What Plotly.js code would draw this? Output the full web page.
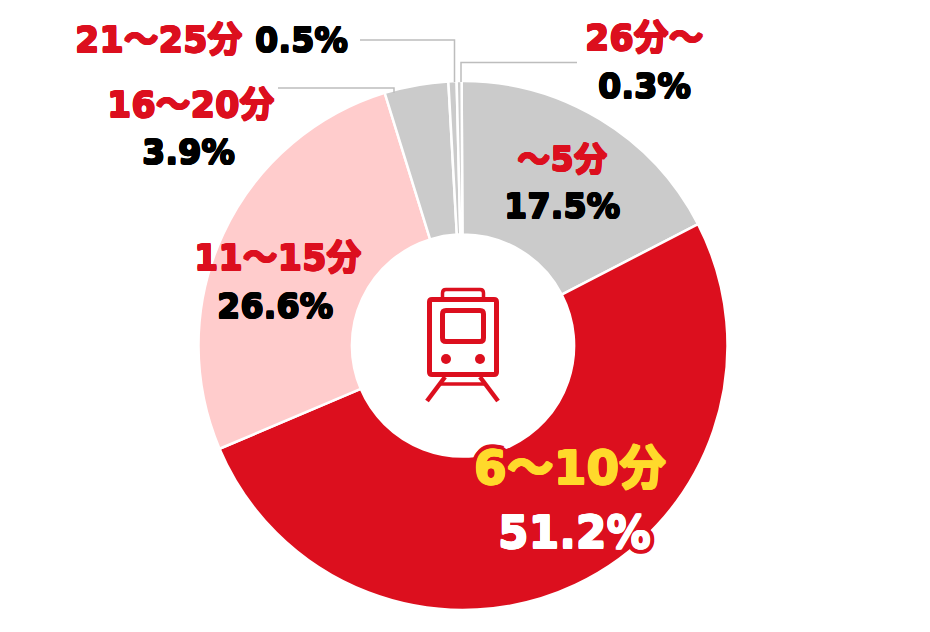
<!DOCTYPE html>
<html><head><meta charset="utf-8">
<script src="https://cdn.plot.ly/plotly-3.0.1.min.js"></script>
<style>html,body{margin:0;padding:0;background:#fff}#c{width:930px;height:632px}</style>
</head><body><div id="c"></div>
<script>
const categories = ["〜5分","6〜10分","11〜15分","16〜20分","21〜25分","26分〜"];
const shares = [17.5,51.2,26.6,3.9,0.5,0.3];
const sliceColors = ["#cbcbcb","#dc0f1e","#ffcccc","#cbcbcb","#cbcbcb","#cbcbcb"];
const W=930,H=632;
const px=x=>x/W, py=y=>1-y/H;
const path=s=>s.replace(/(-?[\d.]+),(-?[\d.]+)/g,(m,a,b)=>px(+a)+','+py(+b));
const RED="#dc0f1e", GR="#bdbdbd", FC='"DejaVu Sans","Noto Sans CJK JP",sans-serif';
const fat=(c,w)=>{const o=[];for(const [a,b] of [[w,0],[-w,0],[0,w],[0,-w],[w,w],[-w,-w],[w,-w],[-w,w]])o.push(`${a}px ${b}px 0 ${c}`);return o.join(',')};
const halo=(c,w)=>{const o=[];for(let i=0;i<16;i++){const t=i*Math.PI/8;o.push(`${(w*Math.cos(t)).toFixed(1)}px ${(w*Math.sin(t)).toFixed(1)}px 0 ${c}`)}return o.join(',')};
function label(x,y,text,color,size,shadow){
  return {xref:'paper',yref:'paper',x:px(x),y:py(y),xanchor:'center',yanchor:'middle',showarrow:false,text,
    font:{family:FC,size,color,weight:700,shadow:shadow||fat(color,0.6)}};
}
const annotations=[
  label(158,40,categories[4],RED,35),
  label(301,40,shares[4].toFixed(1)+'%',"#000",33.5),
  label(190,105,categories[3],RED,35),
  label(188,153,shares[3].toFixed(1)+'%',"#000",33.5),
  label(644,38,categories[5],RED,35),
  label(644,86,shares[5].toFixed(1)+'%',"#000",33.5),
  label(562,159,categories[0],RED,33.5),
  label(562,207,shares[0].toFixed(1)+'%',"#000",33.5),
  label(277,258,categories[2],RED,35),
  label(275,307,shares[2].toFixed(1)+'%',"#000",33.5),
  label(570,468,categories[1],"#ffd92b",47,fat("#ffd92b",0.7)+','+halo(RED,5)),
  label(574,532,shares[1].toFixed(1)+'%',"#fff",44,fat("#fff",0.6)+','+halo(RED,5)),
];
const ln={color:GR,width:1.5};
const ic={color:RED,width:5};
const shapes=[
  {type:'path',xref:'paper',yref:'paper',line:ln,path:path('M360,40 L454.5,40 L454.5,82')},
  {type:'path',xref:'paper',yref:'paper',line:ln,path:path('M278,88 L394,88 L394,93')},
  {type:'path',xref:'paper',yref:'paper',line:ln,path:path('M577,62.5 L461,62.5 L461,82')},
  {type:'path',xref:'paper',yref:'paper',line:ic,path:path('M432,299.5 L494,299.5 Q496.5,299.5 496.5,302 L496.5,372 Q496.5,374.5 494,374.5 L432,374.5 Q429.5,374.5 429.5,372 L429.5,302 Q429.5,299.5 432,299.5 Z')},
  {type:'path',xref:'paper',yref:'paper',line:{color:RED,width:3.5},path:path('M442.5,297 L442.5,293 Q442.5,289.5 446,289.5 L480,289.5 Q483.5,289.5 483.5,293 L483.5,297')},
  {type:'path',xref:'paper',yref:'paper',line:ic,path:path('M446,310.5 L480,310.5 Q483.5,310.5 483.5,314 L483.5,338 Q483.5,341.5 480,341.5 L446,341.5 Q442.5,341.5 442.5,338 L442.5,314 Q442.5,310.5 446,310.5 Z')},
  {type:'circle',xref:'paper',yref:'paper',fillcolor:RED,line:{width:0},x0:px(441),x1:px(451),y0:py(354),y1:py(364)},
  {type:'circle',xref:'paper',yref:'paper',fillcolor:RED,line:{width:0},x0:px(475),x1:px(485),y0:py(354),y1:py(364)},
  {type:'path',xref:'paper',yref:'paper',line:{color:RED,width:4.5},path:path('M445,377 L427,401')},
  {type:'path',xref:'paper',yref:'paper',line:{color:RED,width:4.5},path:path('M480,377 L498,401')},
  {type:'path',xref:'paper',yref:'paper',line:{color:RED,width:3.5},path:path('M440,384 L485,384')},
];
Plotly.newPlot('c',[{
  type:'pie',labels:categories,values:shares,sort:false,direction:'clockwise',rotation:-0.3,hole:0.42,
  textinfo:'none',hoverinfo:'label+value',
  marker:{colors:sliceColors,line:{color:'#fff',width:2.5}},
  domain:{x:[px(198.5),px(727.5)],y:[py(610),py(81)]},showlegend:false
}],{
  width:W,height:H,margin:{l:0,r:0,t:0,b:0},paper_bgcolor:'#fff',showlegend:false,annotations,shapes
},{displayModeBar:false,staticPlot:true});
</script></body></html>
